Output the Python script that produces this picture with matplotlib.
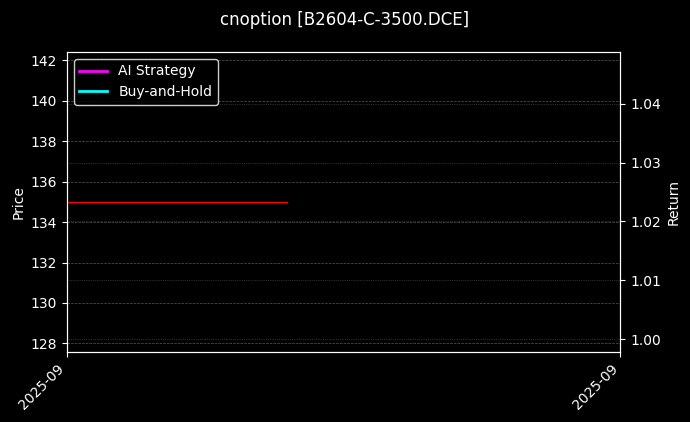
import matplotlib
matplotlib.use("Agg")
import matplotlib.pyplot as plt
import matplotlib.dates as mdates
import pandas as pd

plt.style.use("dark_background")

title = "cnoption [B2604-C-3500.DCE]"
price_dates = pd.to_datetime(["2025-09-01 00:00", "2025-09-11 00:00"])
price_values = [135.0, 135.0]
ai_dates = []
ai_returns = []
bh_dates = []
bh_returns = []
x_range = pd.to_datetime(["2025-09-01 00:00", "2025-09-26 03:00"])
return_range = [0.9978, 1.0488]

fig, ax = plt.subplots(figsize=(6.9, 4.22), dpi=100)
fig.patch.set_facecolor("black")
ax.set_facecolor("black")

ax.plot(price_dates, price_values, color="red", linewidth=1)
ax.set_ylabel("Price")
ax.grid(True, axis="y", linestyle="--", linewidth=0.5, alpha=0.35)
ax.set_xlim(x_range[0], x_range[1])

ax2 = ax.twinx()
ax2.plot(ai_dates, ai_returns, color="magenta", linewidth=2, label="AI Strategy")
ax2.plot(bh_dates, bh_returns, color="cyan", linewidth=2, label="Buy-and-Hold")
ax2.set_ylim(*return_range)
ax2.set_ylabel("Return")
ax2.grid(True, axis="y", linestyle=":", linewidth=0.5, alpha=0.35)
ax2.legend(loc="upper left", facecolor="black", edgecolor="white")

ax.set_xticks(list(x_range))
ax.xaxis.set_major_formatter(mdates.DateFormatter("%Y-%m"))
plt.setp(ax.get_xticklabels(), rotation=45, ha="right")

fig.suptitle(title, fontsize=12, y=0.975)
fig.subplots_adjust(left=0.097, right=0.899, top=0.877, bottom=0.166)
fig.savefig("out.png", dpi=100, facecolor="black")
